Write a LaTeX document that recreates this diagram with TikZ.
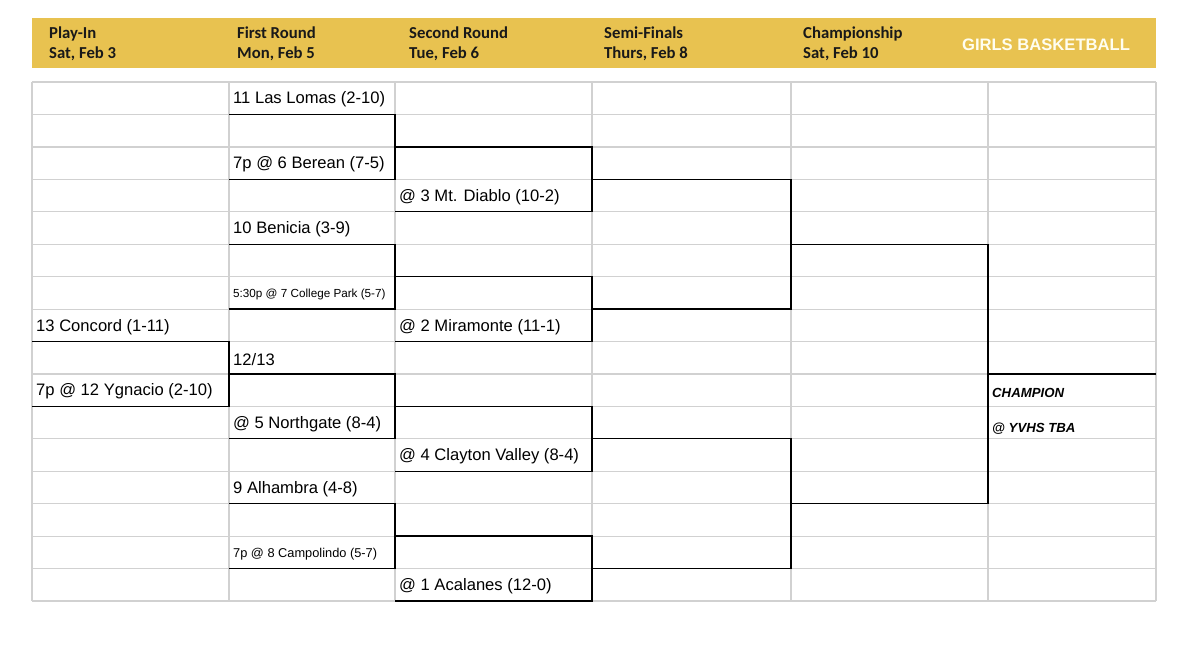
\documentclass[tikz,border=0pt]{standalone}
\usepackage{fontspec}
\setmainfont{Liberation Sans}
\newfontfamily\hdr{Carlito}
\begin{document}
\begin{tikzpicture}[x=1pt,y=-1pt,
  grid/.style={draw=black!18,line width=1.2pt},
  br/.style={draw=black,line width=1.3pt},
  hd/.style={anchor=north west,font=\hdr\bfseries\fontsize{16.7}{20}\selectfont,align=left,inner sep=0pt,text=black!90},
  tm/.style={anchor=west,font=\fontsize{16.6}{18}\selectfont,inner sep=0pt,yshift=-1.5pt},
  sm/.style={anchor=west,font=\fontsize{11.7}{14}\selectfont,inner sep=0pt,yshift=-1.5pt},
  ch/.style={anchor=west,font=\bfseries\itshape\fontsize{13.2}{15}\selectfont,inner sep=0pt}]
\useasboundingbox (0,0) rectangle (1200,645);
\fill[fill={rgb,255:red,232;green,194;blue,80}] (32,18) rectangle (1156,68);
\node[hd] (h1) at (49,26.5) {Play-In\\Sat, Feb 3};
\node[hd] (h2) at (237,26.5) {First Round\\Mon, Feb 5};
\node[hd] (h3) at (409,26.5) {Second Round\\Tue, Feb 6};
\node[hd] (h4) at (604,26.5) {Semi-Finals\\Thurs, Feb 8};
\node[hd] (h5) at (803,26.5) {Championship\\Sat, Feb 10};
\node[anchor=center,font=\bfseries\fontsize{16.6}{18}\selectfont,text=white!94!yellow] (h6) at (1046,45) {GIRLS BASKETBALL};
% grid
\foreach \y in {82,114.4,146.9,179.3,211.8,244.2,276.6,309.1,341.5,374,406.4,438.8,471.3,503.7,536.1,568.6,601}
  \draw[grid] (32,\y) -- (1156,\y);
\foreach \x in {32,229,395,592,791,988,1156}
  \draw[grid] (\x,82) -- (\x,601);
% texts
\node[tm] (t1) at (233,98.2) {11 Las Lomas (2-10)};
\node[tm] (t2) at (233,163.1) {7p @ 6 Berean (7-5)};
\node[tm] (t3) at (399,195.5) {@ 3 Mt. Diablo (10-2)};
\node[tm] (t4) at (233,228) {10 Benicia (3-9)};
\node[sm] (t5) at (233,292.8) {5:30p @ 7 College Park (5-7)};
\node[tm] (t6) at (36,325.3) {13 Concord (1-11)};
\node[tm] (t7) at (399,325.3) {@ 2 Miramonte (11-1)};
\node[tm] (t8) at (233,357.7) {12/13};
\node[tm] (t9) at (36,390.2) {7p @ 12 Ygnacio (2-10)};
\node[tm] (t10) at (233,422.6) {@ 5 Northgate (8-4)};
\node[tm] (t11) at (399,455) {@ 4 Clayton Valley (8-4)};
\node[tm] (t12) at (233,487.5) {9 Alhambra (4-8)};
\node[sm,font=\fontsize{12.8}{14}\selectfont] (t13) at (233,552.4) {7p @ 8 Campolindo (5-7)};
\node[tm] (t14) at (399,584.8) {@ 1 Acalanes (12-0)};
\node[ch] (c1) at (992,393) {CHAMPION};
\node[ch] (c2) at (992,428.5) {@ YVHS TBA};
% brackets
\draw[br] (229,114.4) -| (395,179.3) -- (229,179.3);
\draw[br] (395,146.9) -| (592,211.8) -- (395,211.8);
\draw[br] (229,244.2) -| (395,309.1) -- (229,309.1);
\draw[br] (395,276.6) -| (592,341.5) -- (395,341.5);
\draw[br] (592,179.3) -| (791,309.1) -- (592,309.1);
\draw[br] (32,341.5) -| (229,406.4) -- (32,406.4);
\draw[br] (229,374) -| (395,438.8) -- (229,438.8);
\draw[br] (395,406.4) -| (592,471.3) -- (395,471.3);
\draw[br] (229,503.7) -| (395,568.6) -- (229,568.6);
\draw[br] (395,536.1) -| (592,601) -- (395,601);
\draw[br] (592,438.8) -| (791,568.6) -- (592,568.6);
\draw[br] (791,244.2) -| (988,503.7) -- (791,503.7);
\draw[br] (988,374) -- (1156,374);
\end{tikzpicture}
\end{document}
